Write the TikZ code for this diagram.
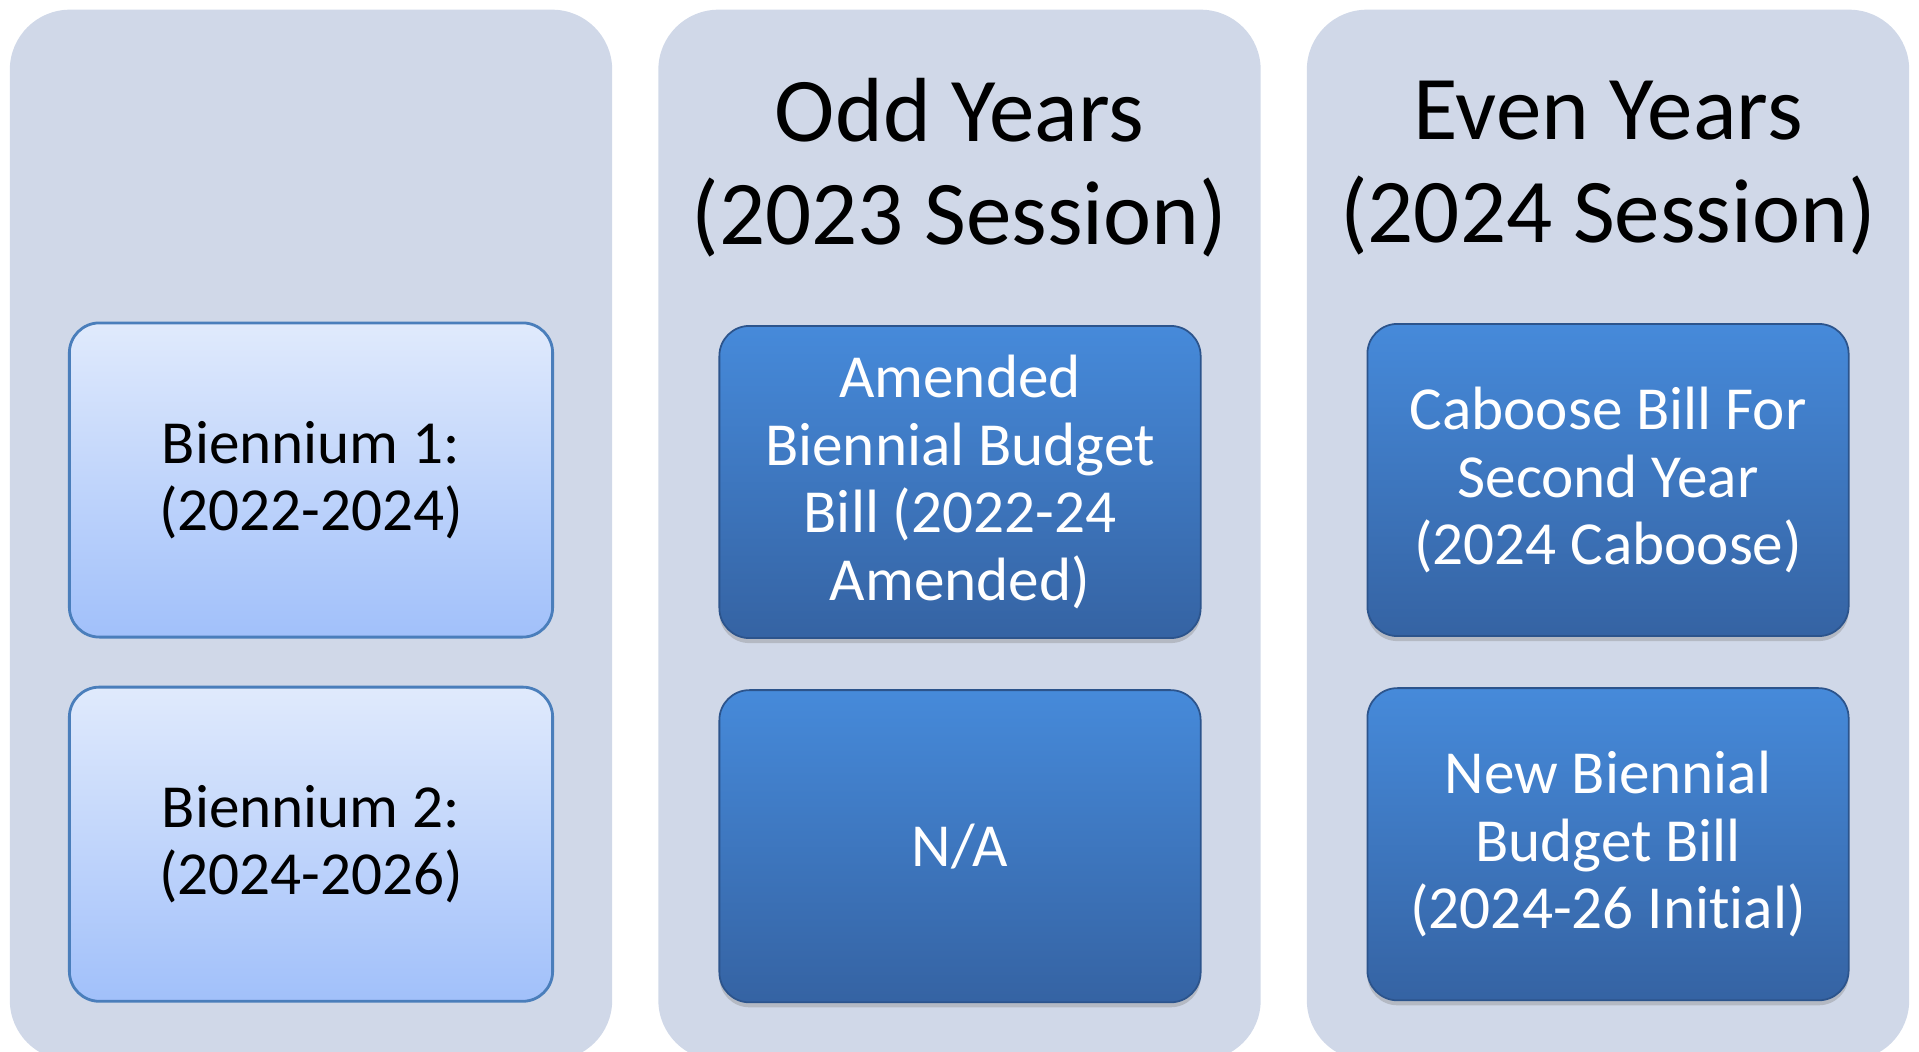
\documentclass[tikz,border=0pt]{standalone}
\usepackage{fontspec}
\setmainfont[Ligatures=NoCommon]{Carlito}
\usetikzlibrary{positioning,shadows}

\definecolor{colbg}{RGB}{208,216,232}
\definecolor{lighttop}{RGB}{224,234,252}
\definecolor{lightbot}{RGB}{161,192,250}
\definecolor{lightedge}{RGB}{74,126,187}
\definecolor{darktop}{RGB}{70,138,218}
\definecolor{darkbot}{RGB}{53,99,163}
\definecolor{darkedge}{RGB}{44,84,140}

\tikzset{
  column/.style={fill=colbg, rounded corners=0.6cm, minimum width=6.02cm, minimum height=10.5cm},
  header/.style={align=center, font=\fontsize{25.9}{29.3}\selectfont},
  period/.style={draw=lightedge, line width=0.8pt, rounded corners=0.3cm, top color=lighttop, bottom color=lightbot,
    minimum width=4.83cm, minimum height=3.14cm, align=center, font=\fontsize{17.4}{19.2}\selectfont},
  billbox/.style={draw=darkedge, line width=0.5pt, rounded corners=0.3cm, top color=darktop, bottom color=darkbot,
    drop shadow={opacity=0.35, shadow xshift=0pt, shadow yshift=-0.05cm},
    minimum width=4.81cm, minimum height=3.12cm, align=center, text=white, font=\fontsize{17.4}{19.2}\selectfont}
}

\begin{document}
\begin{tikzpicture}[x=0.01cm, y=-0.01cm, node distance=3.64cm]
  \useasboundingbox (0,0) rectangle (1919,1052);
  \clip (0,0) rectangle (1919,1052);

  % three columns, the bottom edge runs off the page
  \node[column] (colA) at (311,535) {};
  \node[column] (colB) at (959.5,535) {};
  \node[column] (colC) at (1608,535) {};

  \node[header] (oddhead) at (959.5,168) {Odd Years\\(2023 Session)};
  \node[header] (evenhead) at (1608,168) {Even Years\\(2024 Session)};

  % biennium rows
  \node[period] (bien1) at (311,480) {Biennium 1:\\(2022-2024)};
  \node[period] (bien2) [below of=bien1] {Biennium 2:\\(2024-2026)};

  % odd year bills
  \node[billbox] (amended) at (960,482) {Amended\\Biennial Budget\\Bill (2022-24\\Amended)};
  \node[billbox] (none) [below of=amended] {N/A};

  % even year bills
  \node[billbox] (caboose) at (1608,480) {Caboose Bill For\\Second Year\\(2024 Caboose)};
  \node[billbox] (newbill) [below of=caboose] {New Biennial\\Budget Bill\\(2024-26 Initial)};
\end{tikzpicture}
\end{document}
